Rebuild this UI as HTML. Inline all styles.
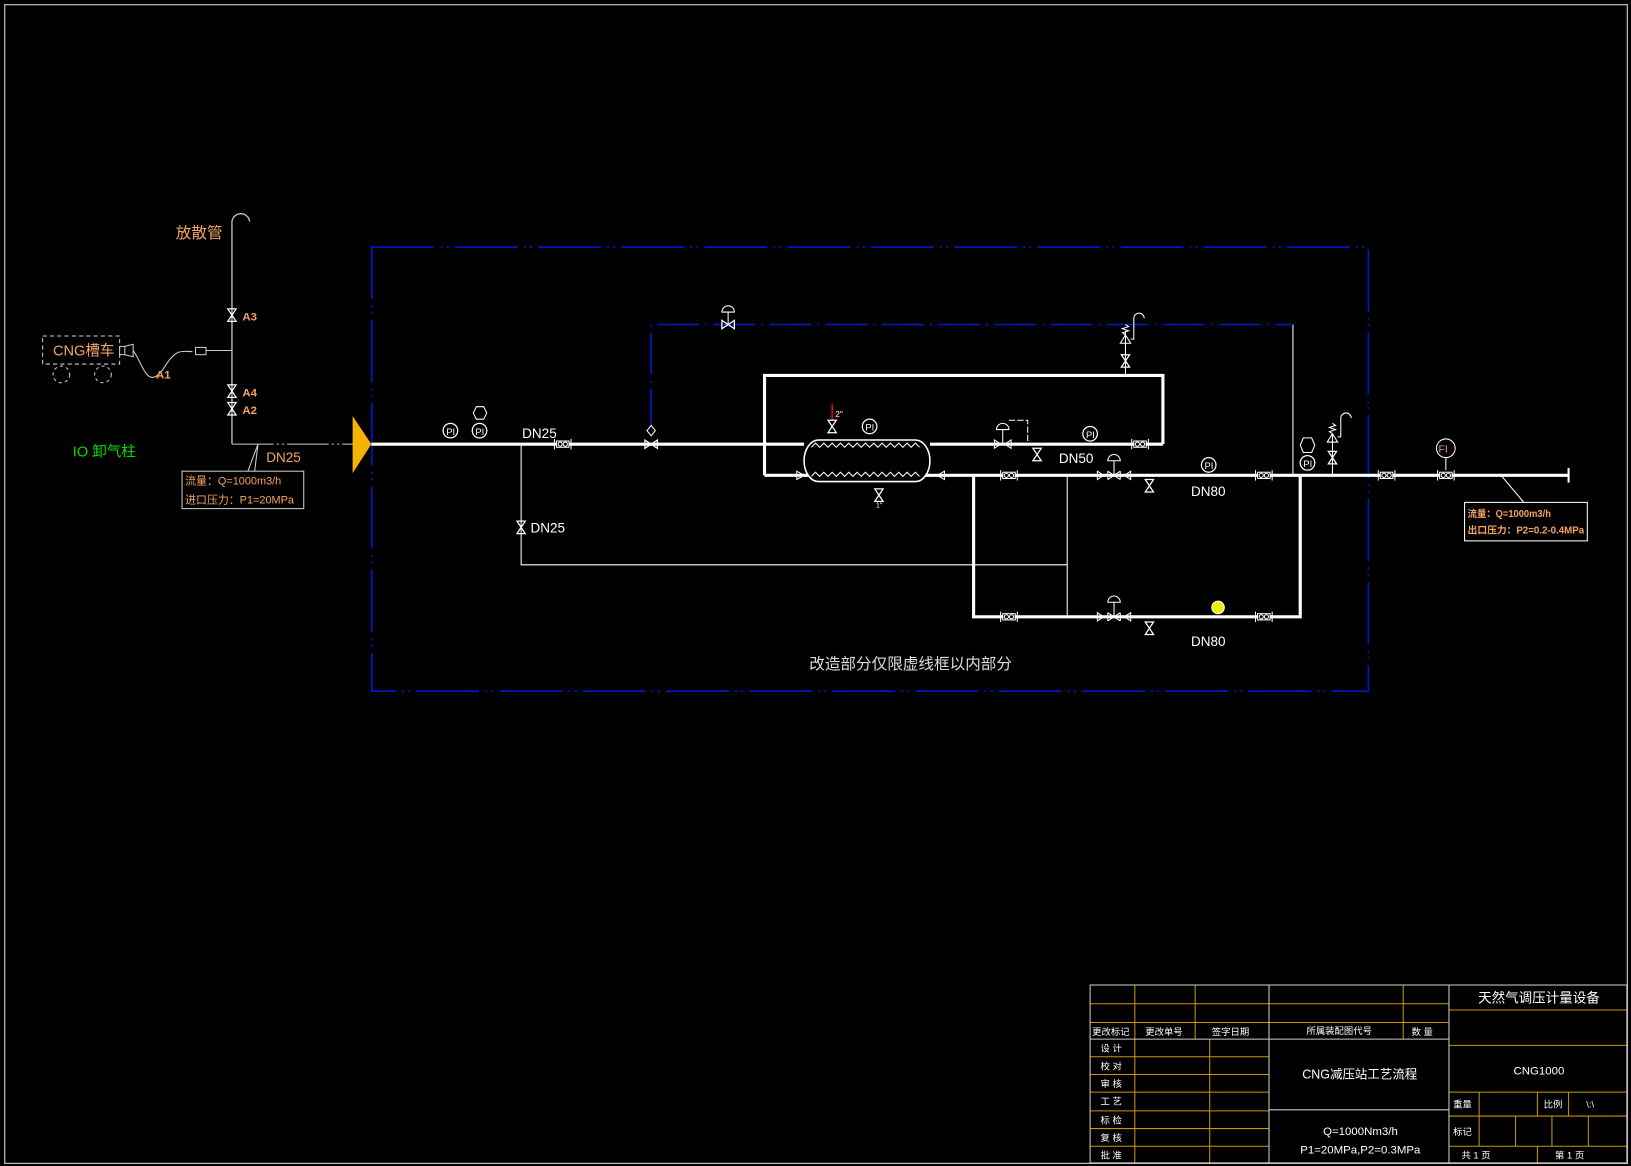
<!DOCTYPE html>
<html><head><meta charset="utf-8"><style>
html,body{margin:0;padding:0;background:#000;}
svg{display:block}
text{font-family:"Liberation Sans","Noto Sans CJK SC",sans-serif;}
</style></head><body>
<svg width="1631" height="1166" viewBox="0 0 1568 1121" preserveAspectRatio="none" xmlns="http://www.w3.org/2000/svg">
<defs>
<g id="v"><path d="M-4,-6 L4,-6 L-4,6 L4,6 Z" fill="none" stroke="#fff" stroke-width="1.2"/></g>
<g id="vh"><path d="M-6,-4 L-6,4 L6,-4 L6,4 Z" fill="none" stroke="#fff" stroke-width="1.2"/></g>
<g id="fl"><line x1="-8" y1="-5" x2="-8" y2="5" stroke="#fff"/><line x1="8" y1="-5" x2="8" y2="5" stroke="#fff"/><rect x="-6" y="-3" width="12" height="6" fill="#000" stroke="#fff"/><circle cx="-2.5" cy="0" r="2" fill="none" stroke="#fff"/><circle cx="2.5" cy="0" r="2" fill="none" stroke="#fff"/></g>
<g id="g"><circle r="7" fill="#000" stroke="#fff" stroke-width="1.2"/><text x="-4" y="4" font-size="9" fill="#fff">PI</text></g>
<g id="reg"><path d="M-16,-4 L-10,0 L-16,4 Z M16,-4 L10,0 L16,4 Z" fill="none" stroke="#fff"/><path d="M-6,-4 L6,4 M-6,4 L6,-4 M-6,-4 L-6,4 M6,-4 L6,4" stroke="#fff"/><line x1="0" y1="0" x2="0" y2="-14" stroke="#fff"/><path d="M-6,-14 A6,6 0 0 1 6,-14 Z" fill="#000" stroke="#fff"/></g>
</defs>
<rect x="0" y="0" width="1568" height="1121" fill="#000"/>
<rect x="4.5" y="4.5" width="1560" height="1114" fill="none" stroke="#bbb" stroke-width="1.2"/>

<line x1="223" y1="215" x2="223" y2="427" stroke="#ccc" stroke-width="1.2"/>
<path d="M223,215 A8,8 0 0 1 240,213" fill="none" stroke="#ccc" stroke-width="1.2"/>
<text x="169" y="229" font-size="15" fill="#f4a460">放散管</text>
<use href="#v" x="223" y="303"/><text x="233" y="308" font-size="11" font-weight="bold" fill="#f4a460">A3</text>
<use href="#v" x="223" y="376"/><text x="233" y="381" font-size="11" font-weight="bold" fill="#f4a460">A4</text>
<use href="#v" x="223" y="393"/><text x="233" y="398" font-size="11" font-weight="bold" fill="#f4a460">A2</text>
<rect x="41" y="323" width="74" height="27" fill="none" stroke="#ccc" stroke-dasharray="4,3"/>
<text x="51" y="342" font-size="14" fill="#f4a460">CNG槽车</text>
<circle cx="59" cy="360" r="8" fill="none" stroke="#ccc" stroke-dasharray="3,3"/>
<circle cx="99" cy="360" r="8" fill="none" stroke="#ccc" stroke-dasharray="3,3"/>
<rect x="115" y="333" width="5" height="8" fill="none" stroke="#ccc"/>
<path d="M120,333 L128,331 L128,343 L120,341" fill="none" stroke="#ccc"/>
<path d="M128,337 C138,350 142,380 160,350 C170,335 175,338 185,338" fill="none" stroke="#ccc"/>
<rect x="188" y="334" width="10" height="7" fill="none" stroke="#ccc"/>
<line x1="198" y1="337" x2="223" y2="337" stroke="#ccc"/>
<text x="150" y="364" font-size="11" font-weight="bold" fill="#f4a460">A1</text>
<line x1="223" y1="427" x2="340" y2="427" stroke="#ccc" stroke-dasharray="40,3,2,3,2,3"/>
<text x="256" y="444" font-size="13" fill="#f4a460">DN25</text>
<path d="M225,489 L248,427 L243,468" fill="none" stroke="#ccc"/>
<rect x="175" y="453" width="117" height="36" fill="#000" stroke="#ccc"/>
<text x="178" y="466" font-size="10.5" fill="#f4a460">流量：Q=1000m3/h</text>
<text x="178" y="484" font-size="10.5" fill="#f4a460">进口压力：P1=20MPa</text>
<text x="70" y="439" font-size="14" fill="#00e000">IO 卸气柱</text>
<polygon points="339,400 357,427 339,455" fill="#f5b400"/>

<rect x="357.5" y="237.5" width="958" height="427" fill="none" stroke="#0018d0" stroke-width="1.5" stroke-dasharray="60,6,2,4,2,6"/>
<text x="778" y="643" font-size="15" fill="#ddd">改造部分仅限虚线框以内部分</text>

<g stroke="#fff" fill="none">
<line x1="357" y1="427" x2="773" y2="427" stroke-width="3"/>
<line x1="894" y1="427" x2="1118" y2="427" stroke-width="3"/>
<polyline points="735,457 735,361 1118,361 1118,427" stroke-width="3"/>
<line x1="735" y1="457" x2="1508" y2="457" stroke-width="3"/>
<polyline points="936,457 936,593 1250,593 1250,457" stroke-width="3"/>
<line x1="1026" y1="457" x2="1026" y2="593" stroke-width="1"/>
<polyline points="501,427 501,543 1026,543" stroke-width="1"/>
<polyline points="1243,312 1243,457" stroke-width="1"/>
<line x1="1508" y1="450" x2="1508" y2="464" stroke-width="2"/>
<line x1="1082" y1="361" x2="1082" y2="318" stroke-width="1"/>
<line x1="1281" y1="457" x2="1281" y2="418" stroke-width="1"/>
</g>
<polyline points="626,414 626,312 1243,312" fill="none" stroke="#0018d0" stroke-width="1.5" stroke-dasharray="40,6,2,6"/>

<use href="#g" x="433" y="414"/><use href="#g" x="461" y="414"/>
<polygon points="455,397 458,391 465,391 468,397 465,403 458,403" fill="#000" stroke="#fff"/>
<text x="502" y="421" font-size="13" fill="#fff">DN25</text>
<use href="#v" x="501" y="507"/><text x="510" y="512" font-size="13" fill="#fff">DN25</text>
<use href="#fl" x="541" y="427"/>
<use href="#vh" x="626" y="427"/>
<path d="M626,409 L630,414 L626,419 L622,414 Z" fill="#000" stroke="#fff"/>
<use href="#vh" x="700" y="312"/>
<line x1="700" y1="312" x2="700" y2="300" stroke="#fff"/><path d="M694,300 A6,6 0 0 1 706,300 Z" fill="#000" stroke="#fff"/>
<rect x="773" y="423" width="121" height="40" rx="14" ry="20" fill="#000" stroke="#fff" stroke-width="1.5"/>
<path d="M780,430 l4,-4 l4,4 l4,-4 l4,4 l4,-4 l4,4 l4,-4 l4,4 l4,-4 l4,4 l4,-4 l4,4 l4,-4 l4,4 l4,-4 l4,4 l4,-4 l4,4 l4,-4 l4,4 l4,-4 l4,4 l4,-4 l4,4 l4,-4 l4,4" fill="none" stroke="#fff"/>
<path d="M780,458 l4,-4 l4,4 l4,-4 l4,4 l4,-4 l4,4 l4,-4 l4,4 l4,-4 l4,4 l4,-4 l4,4 l4,-4 l4,4 l4,-4 l4,4 l4,-4 l4,4 l4,-4 l4,4 l4,-4 l4,4 l4,-4 l4,4 l4,-4 l4,4" fill="none" stroke="#fff"/>
<line x1="800" y1="388" x2="800" y2="404" stroke="#e00" stroke-width="1.5"/>
<use href="#v" x="800" y="410"/><text x="803" y="401" font-size="8" fill="#fff">2"</text>
<use href="#g" x="836" y="410"/>
<use href="#v" x="845" y="476"/><text x="842" y="488" font-size="7" fill="#fff">1"</text>
<path d="M766,453 L773,457 L766,461 Z M908,453 L901,457 L908,461 Z" fill="none" stroke="#fff"/>
<path d="M956,423 L962,427 L956,431 Z M972,423 L966,427 L972,431 Z" fill="none" stroke="#fff"/>
<line x1="964" y1="427" x2="964" y2="413" stroke="#fff"/><path d="M958,413 A6,6 0 0 1 970,413 Z" fill="#000" stroke="#fff"/>
<polyline points="970,404 988,404 988,424" fill="none" stroke="#fff" stroke-dasharray="6,2"/>
<use href="#v" x="997" y="437"/>
<use href="#g" x="1048" y="417"/>
<use href="#fl" x="1096" y="427"/>
<text x="1018" y="445" font-size="13" fill="#fff">DN50</text>
<use href="#v" x="1082" y="347"/>
<path d="M1077,330 L1082,322 L1087,330 Z" fill="none" stroke="#fff"/>
<path d="M1082,322 l-3,-2 l6,-2 l-6,-2 l6,-2 l-3,-2" fill="none" stroke="#fff"/>
<path d="M1087,326 L1090,326 L1090,306 A5,5 0 0 1 1100,306" fill="none" stroke="#fff"/>
<use href="#fl" x="970" y="457"/><use href="#fl" x="1215" y="457"/>
<use href="#fl" x="970" y="593"/><use href="#fl" x="1215" y="593"/>
<use href="#reg" x="1071" y="457"/><use href="#reg" x="1071" y="593"/>
<use href="#v" x="1105" y="467"/><use href="#v" x="1105" y="604"/>
<use href="#g" x="1162" y="447"/>
<circle cx="1171" cy="584" r="6" fill="#ee0" stroke="#fff"/>
<text x="1145" y="477" font-size="13" fill="#fff">DN80</text>
<text x="1145" y="621" font-size="13" fill="#fff">DN80</text>
<use href="#g" x="1257" y="445"/>
<polygon points="1250,428 1253,421 1261,421 1264,428 1261,435 1253,435" fill="#000" stroke="#fff"/>
<use href="#v" x="1281" y="440"/>
<path d="M1276,425 L1281,417 L1286,425 Z" fill="none" stroke="#fff"/>
<path d="M1281,417 l-3,-2 l6,-2 l-6,-2 l6,-2 l-3,-2" fill="none" stroke="#fff"/>
<path d="M1286,420 L1289,420 L1289,402 A5,5 0 0 1 1299,402" fill="none" stroke="#fff"/>
<use href="#fl" x="1333" y="457"/>
<use href="#fl" x="1390" y="457"/>
<line x1="1390" y1="439" x2="1390" y2="452" stroke="#fff"/>
<circle cx="1390" cy="431" r="9" fill="#000" stroke="#fff"/>
<text x="1383" y="435" font-size="10" fill="#f4a460">FI</text>
<path d="M1443,457 L1465,483" stroke="#fff" fill="none"/>
<rect x="1408" y="483" width="118" height="37" fill="#000" stroke="#fff"/>
<text x="1411" y="497" font-size="9.5" font-weight="bold" fill="#f4a460" textLength="80" lengthAdjust="spacingAndGlyphs">流量：Q=1000m3/h</text>
<text x="1411" y="513" font-size="9.5" font-weight="bold" fill="#f4a460" textLength="112" lengthAdjust="spacingAndGlyphs">出口压力：P2=0.2-0.4MPa</text>

<g stroke="#c8960a" stroke-width="1" fill="none">
<line x1="1048" y1="965" x2="1393" y2="965"/>
<line x1="1048" y1="983" x2="1393" y2="983"/>
<line x1="1048" y1="1016" x2="1220" y2="1016"/><line x1="1048" y1="1033" x2="1220" y2="1033"/>
<line x1="1048" y1="1050" x2="1220" y2="1050"/><line x1="1048" y1="1068" x2="1220" y2="1068"/>
<line x1="1048" y1="1085" x2="1220" y2="1085"/><line x1="1048" y1="1102" x2="1220" y2="1102"/>
<line x1="1091" y1="947" x2="1091" y2="999"/><line x1="1149" y1="947" x2="1149" y2="999"/>
<line x1="1349" y1="947" x2="1349" y2="999"/>
<line x1="1091" y1="999" x2="1091" y2="1118"/><line x1="1163" y1="999" x2="1163" y2="1118"/>
<line x1="1393" y1="971" x2="1564" y2="971"/><line x1="1393" y1="1005" x2="1564" y2="1005"/>
<line x1="1393" y1="1050" x2="1564" y2="1050"/><line x1="1393" y1="1073" x2="1564" y2="1073"/>
<line x1="1393" y1="1102" x2="1564" y2="1102"/>
<line x1="1422" y1="1050" x2="1422" y2="1102"/><line x1="1478" y1="1050" x2="1478" y2="1073"/>
<line x1="1508" y1="1050" x2="1508" y2="1073"/>
<line x1="1457" y1="1073" x2="1457" y2="1102"/><line x1="1492" y1="1073" x2="1492" y2="1102"/>
<line x1="1527" y1="1073" x2="1527" y2="1102"/>
<line x1="1478" y1="1102" x2="1478" y2="1118"/>
</g>
<g stroke="#ccc" stroke-width="1" fill="none">
<rect x="1048" y="947" width="516" height="171"/>
<line x1="1048" y1="999" x2="1393" y2="999"/>
<line x1="1220" y1="947" x2="1220" y2="1118"/>
<line x1="1393" y1="947" x2="1393" y2="1118"/>
<line x1="1220" y1="1067" x2="1393" y2="1067"/>
</g>
<g fill="#fff" font-size="9">
<text x="1050" y="995">更改标记</text><text x="1101" y="995">更改单号</text><text x="1165" y="995">签字日期</text>
<text x="1256" y="994">所属装配图代号</text><text x="1357" y="995">数 量</text>
<text x="1058" y="1011">设 计</text><text x="1058" y="1028">校 对</text><text x="1058" y="1045">审 核</text>
<text x="1058" y="1062">工 艺</text><text x="1058" y="1080">标 检</text><text x="1058" y="1097">复 核</text>
<text x="1058" y="1114">批 准</text>
<text x="1397" y="1065">重量</text><text x="1484" y="1065">比例</text><text x="1525" y="1065">\:\</text>
<text x="1397" y="1091">标记</text>
<text x="1405" y="1114">共  1  页</text><text x="1495" y="1114">第  1  页</text>
</g>
<text x="1421" y="964" font-size="13" fill="#fff">天然气调压计量设备</text>
<text x="1455" y="1033" font-size="11" fill="#fff">CNG1000</text>
<text x="1252" y="1037" font-size="12" fill="#fff">CNG减压站工艺流程</text>
<text x="1272" y="1091" font-size="11" fill="#fff">Q=1000Nm3/h</text>
<text x="1250" y="1109" font-size="11" fill="#fff">P1=20MPa,P2=0.3MPa</text>
</svg>
</body></html>
